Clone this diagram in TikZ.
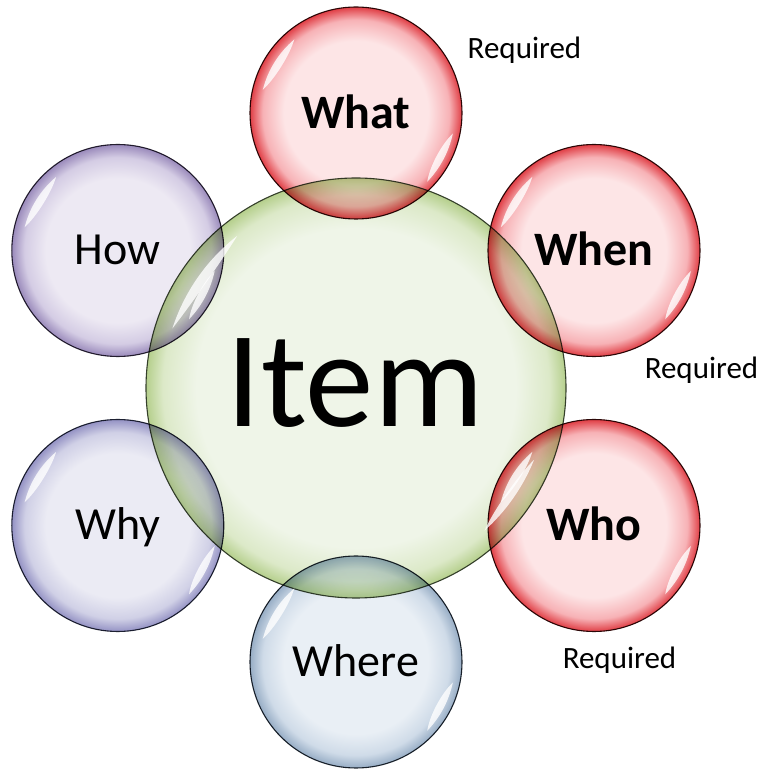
\documentclass[tikz,border=0pt]{standalone}
\usepackage{fontspec}
\setmainfont{Carlito}
\usetikzlibrary{calc}
\definecolor{grin}{HTML}{EFF5E8}
\definecolor{grmid}{HTML}{DCE9C8}
\definecolor{grrim}{HTML}{B5CF8C}
\definecolor{grline}{HTML}{343F2A}
\definecolor{rdin}{HTML}{FDE5E6}
\definecolor{rdmid}{HTML}{F7B2B6}
\definecolor{rdrim}{HTML}{E03E45}
\definecolor{rdline}{HTML}{2E0A0A}
\definecolor{puin}{HTML}{EDE9F3}
\definecolor{pumid}{HTML}{D4CCE4}
\definecolor{purim}{HTML}{9A8ABB}
\definecolor{puline}{HTML}{2A2434}
\definecolor{wyin}{HTML}{EBEBF4}
\definecolor{wymid}{HTML}{D0D0E6}
\definecolor{wyrim}{HTML}{9492C4}
\definecolor{wyline}{HTML}{222636}
\definecolor{blin}{HTML}{E9EFF5}
\definecolor{blmid}{HTML}{CFDBE8}
\definecolor{blrim}{HTML}{97ADC5}
\definecolor{blline}{HTML}{1E262F}
\pgfdeclareradialshading{grbub}{\pgfpoint{0bp}{0bp}}{color(0bp)=(grin); color(19bp)=(grin); color(23bp)=(grmid); color(25bp)=(grrim); color(50bp)=(grrim)}
\pgfdeclareradialshading{rdbub}{\pgfpoint{0bp}{0bp}}{color(0bp)=(rdin); color(17bp)=(rdin); color(22bp)=(rdmid); color(25bp)=(rdrim); color(50bp)=(rdrim)}
\pgfdeclareradialshading{pubub}{\pgfpoint{0bp}{0bp}}{color(0bp)=(puin); color(17bp)=(puin); color(22bp)=(pumid); color(25bp)=(purim); color(50bp)=(purim)}
\pgfdeclareradialshading{wybub}{\pgfpoint{0bp}{0bp}}{color(0bp)=(wyin); color(17bp)=(wyin); color(22bp)=(wymid); color(25bp)=(wyrim); color(50bp)=(wyrim)}
\pgfdeclareradialshading{blbub}{\pgfpoint{0bp}{0bp}}{color(0bp)=(blin); color(17bp)=(blin); color(22bp)=(blmid); color(25bp)=(blrim); color(50bp)=(blrim)}
\newcommand\glossarc[4]{%
  \fill[white, fill opacity=0.8] ($(#1)+(#3:#2)$) arc[start angle=#3, end angle=#4, radius=#2]
    .. controls ($(#1)+({#4+0.25*(#3-#4)}:{#2-8})$) and ($(#1)+({#3-0.25*(#3-#4)}:{#2-8})$) .. cycle;}
\begin{document}
\begin{tikzpicture}[x=1pt,y=1pt,
  bubble/.style={circle, inner sep=0pt, minimum size=212pt, line width=1.1pt, shade},
  sattext/.style={font=\fontsize{46}{46}\selectfont, text height=29pt, text depth=0pt},
  boldtext/.style={font=\fontsize{48}{48}\selectfont\bfseries, text height=30.4pt, text depth=0pt},
  reqtext/.style={font=\fontsize{31}{31}\selectfont, anchor=base, inner sep=0pt}]
\useasboundingbox (0,0) rectangle (763,769);
\node[bubble, minimum size=420pt, shading=grbub, draw=grline] (item) at (356,381) {};
\begin{scope}[blend mode=multiply]
\node[bubble, shading=rdbub, draw=rdline] (what) at (356,656) {};
\node[bubble, shading=rdbub, draw=rdline] (when) at (594,518.5) {};
\node[bubble, shading=rdbub, draw=rdline] (who) at (594,243.5) {};
\node[bubble, shading=blbub, draw=blline] (where) at (356,107) {};
\node[bubble, shading=wybub, draw=wyline] (why) at (117.8,243.5) {};
\node[bubble, shading=pubub, draw=puline] (how) at (117.8,518.5) {};
\end{scope}
\glossarc{item}{193}{162}{128}
\glossarc{item}{192}{-22}{-48}
\foreach \n in {what,when,who,where,why,how}{
  \glossarc{\n}{96}{166}{130}
  \glossarc{\n}{99}{-12}{-44}
}
\node[font=\fontsize{137}{137}\selectfont, anchor=base, inner sep=0pt] (itemtxt) at (355,342) {Item};
\node[boldtext] (whattxt) at (what) {What};
\node[boldtext] (whentxt) at (when) {When};
\node[boldtext] (whotxt) at (who) {Who};
\node[sattext] (wheretxt) at (where) {Where};
\node[sattext] (whytxt) at (why) {Why};
\node[sattext] (howtxt) at (how) {How};
\node[reqtext] (req1) at (524.5,710) {Required};
\node[reqtext] (req2) at (701.5,390) {Required};
\node[reqtext] (req3) at (619.5,100) {Required};
\end{tikzpicture}
\end{document}
